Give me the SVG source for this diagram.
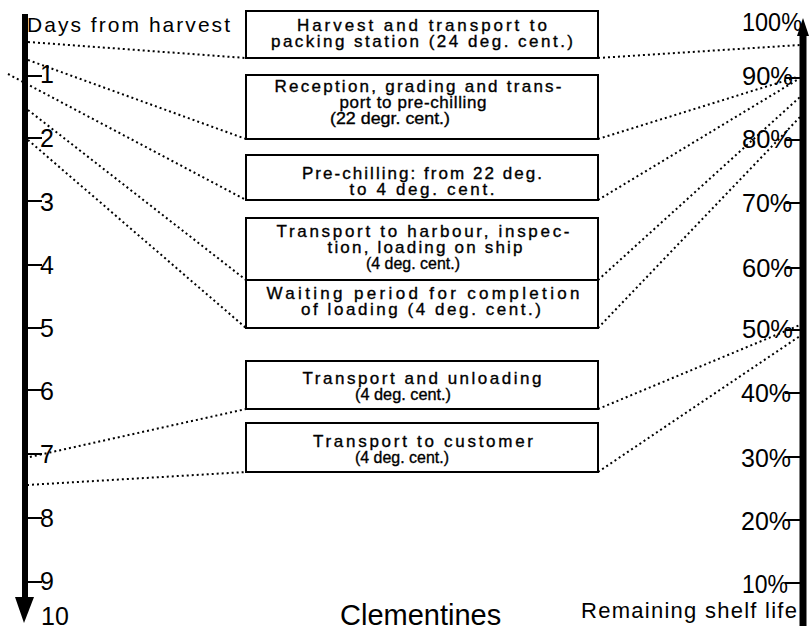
<svg xmlns="http://www.w3.org/2000/svg" width="809" height="632" viewBox="0 0 809 632">
<style>
.box{fill:#fff;stroke:#000;stroke-width:2}
.bt{font-family:"Liberation Sans",Arial,sans-serif;font-size:17px;fill:#000;stroke:#000;stroke-width:0.35;text-anchor:middle}
.ax{font-family:"Liberation Sans",Arial,sans-serif;font-size:25px;fill:#000}
.lbl{font-family:"Liberation Sans",Arial,sans-serif;fill:#000}
.dot{fill:none;stroke:#000;stroke-width:2;stroke-dasharray:2 3}
.tick{stroke:#000;stroke-width:2}
</style>
<rect width="809" height="632" fill="#fff"/>

<g id="connectors">
  <line class="dot" x1="28" y1="42" x2="246" y2="58"/>
  <line class="dot" x1="28" y1="60" x2="246" y2="139"/>
  <line class="dot" x1="8" y1="74" x2="246" y2="200"/>
  <line class="dot" x1="28" y1="110" x2="246" y2="280"/>
  <line class="dot" x1="28" y1="140" x2="246" y2="328"/>
  <line class="dot" x1="25" y1="458" x2="246" y2="409"/>
  <line class="dot" x1="27" y1="485" x2="246" y2="472"/>
  <line class="dot" x1="598" y1="58" x2="800" y2="45"/>
  <line class="dot" x1="598" y1="139" x2="797" y2="77"/>
  <line class="dot" x1="598" y1="200" x2="797" y2="80"/>
  <line class="dot" x1="598" y1="280" x2="800" y2="97"/>
  <line class="dot" x1="598" y1="328" x2="800" y2="117"/>
  <line class="dot" x1="598" y1="409" x2="800" y2="325"/>
  <line class="dot" x1="598" y1="472" x2="800" y2="336"/>
</g>

<g id="left-axis">
  <line x1="25" y1="14" x2="25" y2="600" stroke="#000" stroke-width="6"/>
  <polygon points="15,597 34,597 24,623" fill="#000"/>
  <line class="tick" x1="25" y1="76" x2="42" y2="76"/>
  <line class="tick" x1="25" y1="138" x2="42" y2="138"/>
  <line class="tick" x1="25" y1="201" x2="42" y2="201"/>
  <line class="tick" x1="25" y1="265" x2="42" y2="265"/>
  <line class="tick" x1="25" y1="328" x2="42" y2="328"/>
  <line class="tick" x1="25" y1="390" x2="42" y2="390"/>
  <line class="tick" x1="25" y1="454" x2="42" y2="454"/>
  <line class="tick" x1="25" y1="518" x2="42" y2="518"/>
  <line class="tick" x1="25" y1="582" x2="42" y2="582"/>
  <text class="ax" x="40" y="83">1</text>
  <text class="ax" x="40" y="147">2</text>
  <text class="ax" x="40" y="211">3</text>
  <text class="ax" x="40" y="274">4</text>
  <text class="ax" x="40" y="337">5</text>
  <text class="ax" x="40" y="400">6</text>
  <text class="ax" x="40" y="463">7</text>
  <text class="ax" x="40" y="527">8</text>
  <text class="ax" x="40" y="590">9</text>
  <text class="ax" x="41" y="625">10</text>
  <text class="lbl" x="27" y="32" font-size="21" textLength="203" lengthAdjust="spacing">Days from harvest</text>
</g>

<g id="right-axis">
  <line x1="803" y1="30" x2="803" y2="626" stroke="#000" stroke-width="7"/>
  <polygon points="797,36 809,36 803,18" fill="#000"/>
  <line class="tick" x1="785" y1="78" x2="801" y2="78"/>
  <line class="tick" x1="785" y1="140" x2="801" y2="140"/>
  <line class="tick" x1="785" y1="203" x2="801" y2="203"/>
  <line class="tick" x1="785" y1="268" x2="801" y2="268"/>
  <line class="tick" x1="785" y1="330" x2="801" y2="330"/>
  <line class="tick" x1="785" y1="393" x2="801" y2="393"/>
  <line class="tick" x1="785" y1="457" x2="801" y2="457"/>
  <line class="tick" x1="785" y1="520" x2="801" y2="520"/>
  <line class="tick" x1="785" y1="583" x2="801" y2="583"/>
  <text class="ax" x="742" y="31" textLength="60" lengthAdjust="spacingAndGlyphs">100%</text>
  <text class="ax" x="742" y="85" textLength="51" lengthAdjust="spacingAndGlyphs">90%</text>
  <text class="ax" x="742" y="148" textLength="51" lengthAdjust="spacingAndGlyphs">80%</text>
  <text class="ax" x="742" y="212" textLength="50" lengthAdjust="spacingAndGlyphs">70%</text>
  <text class="ax" x="742" y="277" textLength="51" lengthAdjust="spacingAndGlyphs">60%</text>
  <text class="ax" x="742" y="338" textLength="51" lengthAdjust="spacingAndGlyphs">50%</text>
  <text class="ax" x="741" y="402" textLength="50" lengthAdjust="spacingAndGlyphs">40%</text>
  <text class="ax" x="741" y="467" textLength="50" lengthAdjust="spacingAndGlyphs">30%</text>
  <text class="ax" x="741" y="530" textLength="50" lengthAdjust="spacingAndGlyphs">20%</text>
  <text class="ax" x="742" y="593" textLength="46" lengthAdjust="spacingAndGlyphs">10%</text>
  <text class="lbl" x="581" y="618" font-size="22" textLength="216" lengthAdjust="spacing">Remaining shelf life</text>
</g>

<g id="node-1">
  <rect class="box" x="246" y="11" width="352" height="47"/>
  <text class="bt" x="422" y="31" textLength="250" lengthAdjust="spacing">Harvest and transport to</text>
  <text class="bt" x="422" y="47" textLength="302" lengthAdjust="spacing">packing station (24 deg. cent.)</text>
</g>
<g id="node-2">
  <rect class="box" x="246" y="75" width="352" height="64"/>
  <text class="bt" x="418" y="92" textLength="287" lengthAdjust="spacing">Reception, grading and trans-</text>
  <text class="bt" x="413" y="108" textLength="147" lengthAdjust="spacing">port to pre-chilling</text>
  <text class="bt" x="390" y="124" textLength="120" lengthAdjust="spacingAndGlyphs">(22 degr. cent.)</text>
</g>
<g id="node-3">
  <rect class="box" x="246" y="155" width="352" height="45"/>
  <text class="bt" x="422" y="179" textLength="240" lengthAdjust="spacing">Pre-chilling: from 22 deg.</text>
  <text class="bt" x="422" y="195" textLength="145" lengthAdjust="spacing">to 4 deg. cent.</text>
</g>
<g id="node-4">
  <rect class="box" x="246" y="218" width="352" height="62"/>
  <text class="bt" x="423" y="237" textLength="293" lengthAdjust="spacing">Transport to harbour, inspec-</text>
  <text class="bt" x="425" y="253" textLength="195" lengthAdjust="spacing">tion, loading on ship</text>
  <text class="bt" x="413" y="269" textLength="94" lengthAdjust="spacingAndGlyphs">(4 deg. cent.)</text>
</g>
<g id="node-5">
  <rect class="box" x="246" y="280" width="352" height="48"/>
  <text class="bt" x="423" y="299" textLength="313" lengthAdjust="spacing">Waiting period for completion</text>
  <text class="bt" x="421" y="315" textLength="240" lengthAdjust="spacing">of loading (4 deg. cent.)</text>
</g>
<g id="node-6">
  <rect class="box" x="246" y="361" width="352" height="48"/>
  <text class="bt" x="422" y="384" textLength="239" lengthAdjust="spacing">Transport and unloading</text>
  <text class="bt" x="403" y="400" textLength="96" lengthAdjust="spacingAndGlyphs">(4 deg. cent.)</text>
</g>
<g id="node-7">
  <rect class="box" x="246" y="423" width="352" height="49"/>
  <text class="bt" x="423" y="447" textLength="220" lengthAdjust="spacing">Transport to customer</text>
  <text class="bt" x="402" y="463" textLength="94" lengthAdjust="spacingAndGlyphs">(4 deg. cent.)</text>
</g>

<g id="title">
  <text class="lbl" x="340" y="625" font-size="29">Clementines</text>
</g>
</svg>
